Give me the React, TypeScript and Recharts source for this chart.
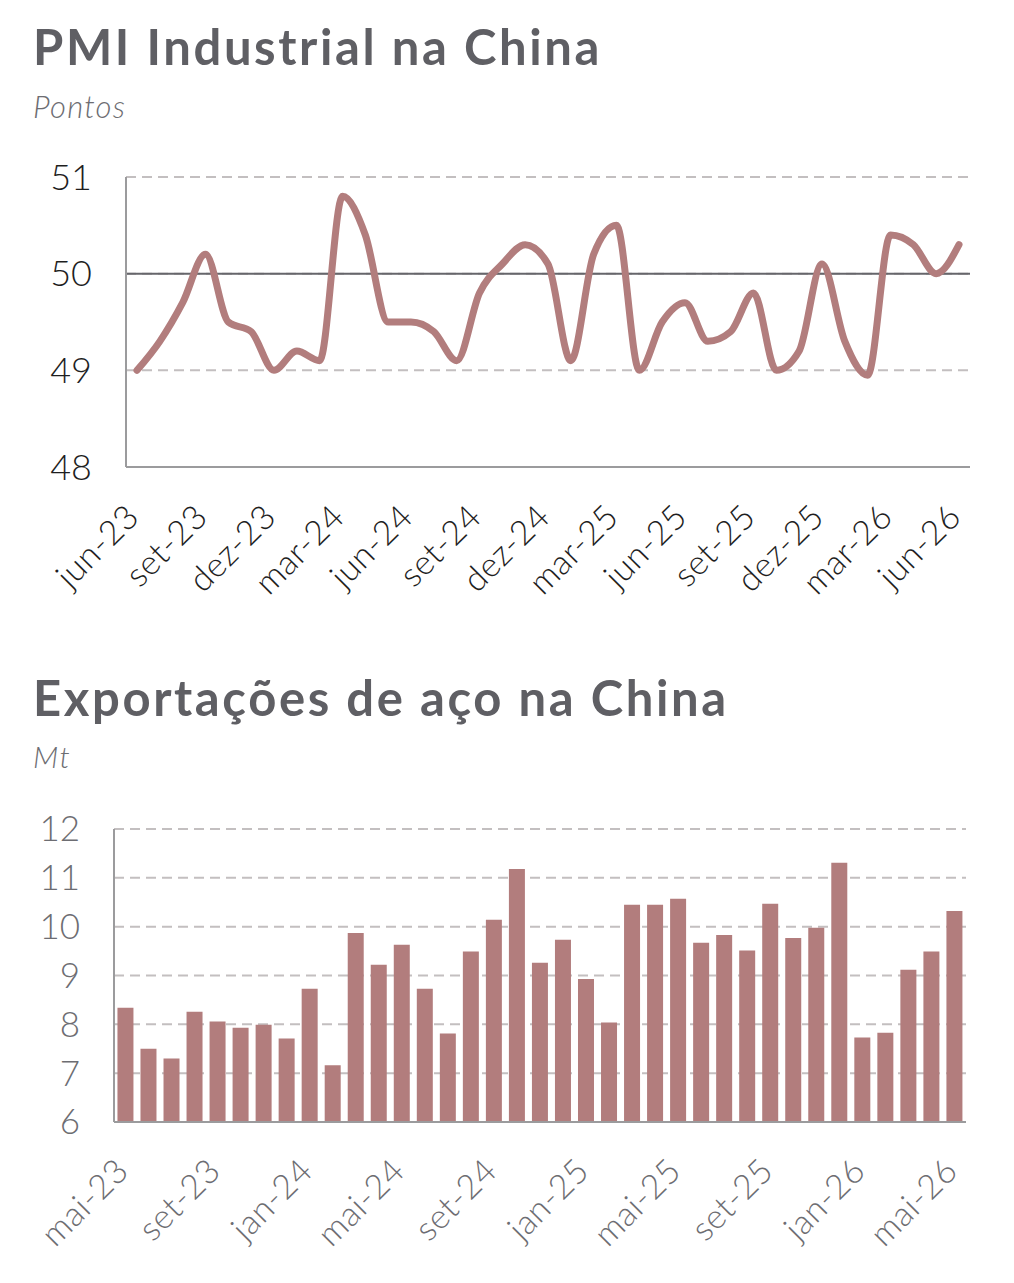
import React from 'react';
import { LineChart, Line, BarChart, Bar, XAxis, YAxis, CartesianGrid, ReferenceLine } from 'recharts';

// PMI industrial (pontos), jun-23 .. jun-26
const pmiMonths = [
  'jun-23', 'jul-23', 'ago-23', 'set-23', 'out-23', 'nov-23', 'dez-23',
  'jan-24', 'fev-24', 'mar-24', 'abr-24', 'mai-24', 'jun-24', 'jul-24', 'ago-24', 'set-24', 'out-24', 'nov-24', 'dez-24',
  'jan-25', 'fev-25', 'mar-25', 'abr-25', 'mai-25', 'jun-25', 'jul-25', 'ago-25', 'set-25', 'out-25', 'nov-25', 'dez-25',
  'jan-26', 'fev-26', 'mar-26', 'abr-26', 'mai-26', 'jun-26',
];
const pmiValues = [
  49.0, 49.3, 49.7, 50.2, 49.5, 49.4, 49.0,
  49.2, 49.1, 50.8, 50.4, 49.5, 49.5, 49.4, 49.1, 49.8, 50.1, 50.3, 50.1,
  49.1, 50.2, 50.5, 49.0, 49.5, 49.7, 49.3, 49.4, 49.8, 49.0, 49.2, 50.1,
  49.3, 48.95, 50.4, 50.3, 50.0, 50.3,
];
const pmiTicks = [48, 49, 50, 51];

// Exportações de aço (Mt), mai-23 .. mai-26
const steelMonths = [
  'mai-23', 'jun-23', 'jul-23', 'ago-23', 'set-23', 'out-23', 'nov-23', 'dez-23',
  'jan-24', 'fev-24', 'mar-24', 'abr-24', 'mai-24', 'jun-24', 'jul-24', 'ago-24', 'set-24', 'out-24', 'nov-24', 'dez-24',
  'jan-25', 'fev-25', 'mar-25', 'abr-25', 'mai-25', 'jun-25', 'jul-25', 'ago-25', 'set-25', 'out-25', 'nov-25', 'dez-25',
  'jan-26', 'fev-26', 'mar-26', 'abr-26', 'mai-26',
];
const steelValues = [
  8.34, 7.50, 7.30, 8.26, 8.06, 7.93, 7.99, 7.71,
  8.73, 7.16, 9.87, 9.22, 9.63, 8.73, 7.81, 9.49, 10.14, 11.18, 9.26, 9.73,
  8.93, 8.04, 10.45, 10.45, 10.57, 9.67, 9.83, 9.51, 10.47, 9.77, 9.98, 11.31,
  7.73, 7.83, 9.12, 9.49, 10.32,
];
const steelTicks = [6, 7, 8, 9, 10, 11, 12];

const pmiData = pmiMonths.map((m, i) => ({ month: m, pmi: pmiValues[i] }));
const steelData = steelMonths.map((m, i) => ({ month: m, exp: steelValues[i] }));

const MAIN = '#b27d7d';
const TITLE = '#5f5f64';
const GREY = '#6d6d72';
const GRID = '#c3bfc0';
const AXIS = '#9b9b9d';
const TICK_FONT = 'Lato, "Open Sans", sans-serif';

const AngledTick = (props: any) => {
  const { x, y, payload, fill, dx, dy } = props;
  const tx = x + dx;
  const ty = y + dy;
  return (
    <text x={tx} y={ty} transform={`rotate(-45, ${tx}, ${ty})`} textAnchor="end"
      fill={fill} fontSize={34} fontFamily={TICK_FONT} fontWeight={300} letterSpacing={0.5}>
      {payload.value}
    </text>
  );
};

export default function App() {
  return (
    <div style={{ position: 'absolute', left: 0, top: 0, width: 1014, height: 1283, background: '#fff' }}>
      <svg width={1014} height={1283} style={{ position: 'absolute', left: 0, top: 0 }}>
        <text x={33} y={65} fontFamily='Lato, sans-serif' fontWeight={700} fontSize={49} fill={TITLE} letterSpacing={2.6}>
          PMI Industrial na China
        </text>
        <text x={33} y={118} fontFamily='Lato, sans-serif' fontStyle="italic" fontWeight={300} fontSize={31} fill={GREY} letterSpacing={1.2}>
          Pontos
        </text>
        <text x={33} y={716} fontFamily='Lato, sans-serif' fontWeight={700} fontSize={49} fill={TITLE} letterSpacing={2.6}>
          Exportações de aço na China
        </text>
        <text x={33} y={768} fontFamily='Lato, sans-serif' fontStyle="italic" fontWeight={300} fontSize={30} fill={GREY} letterSpacing={1.5}>
          Mt
        </text>
      </svg>

      <div style={{ position: 'absolute', left: 0, top: 0 }}>
        <LineChart width={1014} height={620} data={pmiData}
          margin={{ top: 177, right: 44, left: 0, bottom: 0 }}>
          <CartesianGrid vertical={false} stroke={GRID} strokeWidth={2} strokeDasharray="10 6" />
          <XAxis dataKey="month" interval={2} height={153} padding={{ left: 11, right: 11 }}
            axisLine={{ stroke: AXIS, strokeWidth: 2 }} tickLine={false} tickSize={0}
            tick={<AngledTick fill="#1e1e1e" dx={4} dy={50} />} />
          <YAxis domain={[48, 51]} ticks={pmiTicks} width={126} interval={0}
            axisLine={{ stroke: AXIS, strokeWidth: 2 }} tickLine={false} tickSize={0} tickMargin={34}
            tick={{ fill: '#1e1e1e', fontSize: 36, fontFamily: TICK_FONT, fontWeight: 300 }} />
          <ReferenceLine y={50} stroke="#66666b" strokeWidth={2} />
          <Line type="monotone" dataKey="pmi" stroke={MAIN} strokeWidth={7} dot={false}
            strokeLinecap="round" strokeLinejoin="round" isAnimationActive={false} />
        </LineChart>
      </div>

      <div style={{ position: 'absolute', left: 0, top: 640 }}>
        <BarChart width={1014} height={643} data={steelData} barCategoryGap="15%"
          margin={{ top: 189, right: 48, left: 0, bottom: 0 }}>
          <CartesianGrid vertical={false} stroke={GRID} strokeWidth={2} strokeDasharray="10 6" />
          <XAxis dataKey="month" interval={3} height={161}
            axisLine={{ stroke: AXIS, strokeWidth: 2 }} tickLine={false} tickSize={0}
            tick={<AngledTick fill={GREY} dx={5} dy={49} />} />
          <YAxis domain={[6, 12]} ticks={steelTicks} width={114} interval={0}
            axisLine={{ stroke: AXIS, strokeWidth: 2 }} tickLine={false} tickSize={0} tickMargin={34}
            tick={{ fill: GREY, fontSize: 35, fontFamily: TICK_FONT, fontWeight: 300 }} />
          <Bar dataKey="exp" fill={MAIN} isAnimationActive={false} />
        </BarChart>
      </div>
    </div>
  );
}
